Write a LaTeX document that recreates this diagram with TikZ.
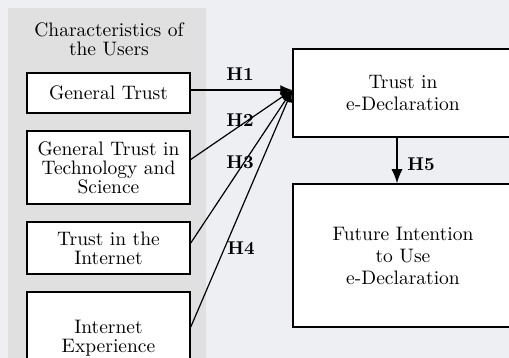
\documentclass[tikz,border=0pt]{standalone}
\usepackage{fontspec}
\setmainfont{lmroman10-regular.otf}[BoldFont=lmroman10-bold.otf]
\usetikzlibrary{arrows.meta}
\definecolor{bgcol}{HTML}{EEEFF3}
\definecolor{panelcol}{HTML}{E0E0E0}
\begin{document}
\begin{tikzpicture}[x=1pt,y=-1pt,>={Latex[length=12pt,width=10pt]},
  box/.style={draw,line width=1.5pt,fill=white,align=center,inner sep=0pt,minimum width=163pt,font=\fontsize{19.5}{19}\selectfont},
  bigbox/.style={box,minimum width=220pt,font=\fontsize{19.5}{22}\selectfont},
  hyp/.style={font=\fontsize{18.5}{18.5}\selectfont\bfseries},
  link/.style={->,line width=1.2pt}]
\useasboundingbox (0,0) rectangle (509,358);
\fill[bgcol] (0,0) rectangle (509,358);
\fill[panelcol] (8,8) rectangle (206,362);
\node[align=center,font=\fontsize{19.5}{19}\selectfont] (title) at (109,39) {Characteristics of\\the Users};

% characteristics
\node[box,minimum height=40pt] (gt) at (108.5,93) {General Trust};
\node[box,minimum height=73pt] (gtt) at (108.5,167.5) {General Trust in\\Technology and\\Science};
\node[box,minimum height=52pt] (ti) at (108.5,248) {Trust in the\\Internet};
\node[box,minimum height=92pt] (ie) at (108.5,338) {Internet\\Experience};

% outcomes
\node[bigbox,minimum height=88pt] (trust) at (403,93) {Trust in\\e-Declaration};
\node[bigbox,minimum height=143pt] (future) at (403,255.5) {Future Intention\\to Use\\e-Declaration};

\coordinate (tip) at ([yshift=3pt]trust.west);
\draw[link] (gt.east |- tip) -- (tip);
\draw[link] ([yshift=8pt]gtt.east) -- (tip);
\draw[link] ([yshift=5pt]ti.east) -- (tip);
\draw[link] ([yshift=11pt]ie.east) -- (tip);
\draw[link,-{Latex[length=14pt,width=11pt]}] ([xshift=-6pt]trust.south) -- ([xshift=-6pt]future.north);

\node[hyp] (h1) at (240,74) {H1};
\node[hyp] (h2) at (240,120) {H2};
\node[hyp] (h3) at (240,162) {H3};
\node[hyp] (h4) at (241,248) {H4};
\node[hyp] (h5) at (421,164) {H5};
\end{tikzpicture}
\end{document}
